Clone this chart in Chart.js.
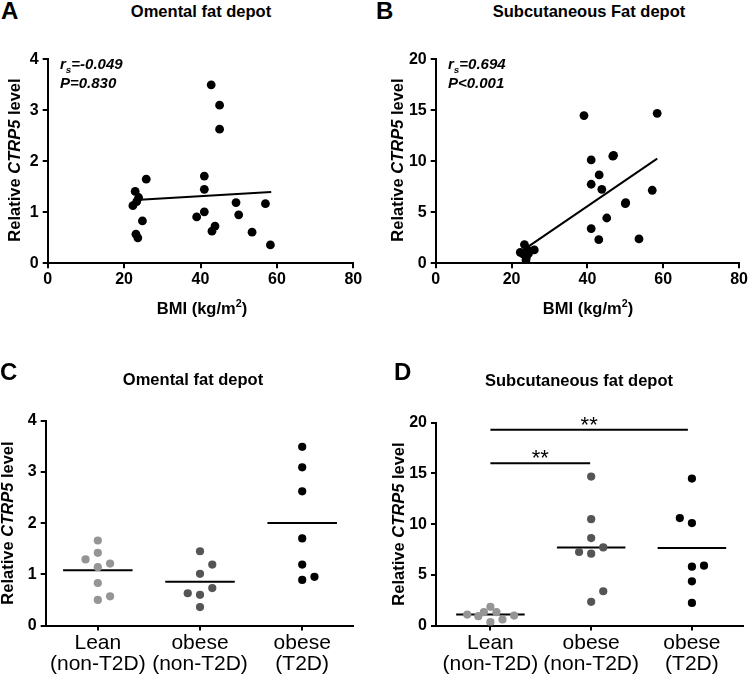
<!DOCTYPE html>
<html>
<head>
<meta charset="utf-8">
<script src="https://cdn.jsdelivr.net/npm/chart.js@4.4.1/dist/chart.umd.min.js"></script>
<style>
  body { margin: 0; background: #fff; }
  #fig { position: relative; width: 750px; height: 677px; overflow: hidden; font-family: "Liberation Sans", Arial, sans-serif; color: #000; }
  .cv { position: absolute; }
  .txt { position: absolute; white-space: nowrap; line-height: 1; }
  .letter { font-size: 24px; font-weight: bold; }
  .title { font-size: 16.5px; font-weight: bold; transform: translate(-50%, -50%); }
  .ytitle { font-size: 16.5px; font-weight: bold; transform: translate(-50%, -50%) rotate(-90deg); }
  .xtitle { font-size: 16.5px; font-weight: bold; transform: translate(-50%, -50%); }
  .stat { font-size: 15px; font-weight: bold; font-style: italic; transform: translateY(-50%); }
  sup, sub { font-size: 65%; line-height: 0; }
</style>
</head>
<body>
<div id="fig">
  <div class="cv" style="left:0;top:40px;width:375px;height:260px"><canvas id="chartA"></canvas></div>
  <div class="cv" style="left:375px;top:40px;width:375px;height:260px"><canvas id="chartB"></canvas></div>
  <div class="cv" style="left:0;top:370px;width:375px;height:307px"><canvas id="chartC"></canvas></div>
  <div class="cv" style="left:375px;top:370px;width:375px;height:307px"><canvas id="chartD"></canvas></div>

  <div class="txt letter" style="left:1px;top:-1px">A</div>
  <div class="txt letter" style="left:376px;top:-1px">B</div>
  <div class="txt letter" style="left:0;top:360px">C</div>
  <div class="txt letter" style="left:394px;top:360px">D</div>

  <div class="txt title" style="left:201px;top:11px">Omental fat depot</div>
  <div class="txt title" style="left:589px;top:11px">Subcutaneous Fat depot</div>
  <div class="txt title" style="left:193px;top:379px">Omental fat depot</div>
  <div class="txt title" style="left:579px;top:380px">Subcutaneous fat depot</div>

  <div class="txt ytitle" style="left:13.5px;top:160px">Relative <i>CTRP5</i> level</div>
  <div class="txt ytitle" style="left:396.5px;top:160px">Relative <i>CTRP5</i> level</div>
  <div class="txt ytitle" style="left:7px;top:523px">Relative <i>CTRP5</i> level</div>
  <div class="txt ytitle" style="left:398px;top:524px">Relative <i>CTRP5</i> level</div>

  <div class="txt xtitle" style="left:202px;top:308px">BMI (kg/m<sup>2</sup>)</div>
  <div class="txt xtitle" style="left:588px;top:308px">BMI (kg/m<sup>2</sup>)</div>

  <div class="txt stat" style="left:60px;top:63px">r<sub>s</sub>=-0.049</div>
  <div class="txt stat" style="left:60px;top:82px">P=0.830</div>
  <div class="txt stat" style="left:448px;top:63px">r<sub>s</sub>=0.694</div>
  <div class="txt stat" style="left:448px;top:82px">P&lt;0.001</div>
</div>

<script>
// A: omental depot, BMI vs CTRP5
const omentalBmi = [22.9, 22.3, 23.8, 23.3, 25.8, 24.8, 23.1, 23.6, 42.8, 45.0, 45.0, 41.0, 41.0, 41.0, 39.0, 43.0, 43.8, 49.3, 50.0, 53.5, 57.0, 58.3];
const omentalLevel = [1.41, 1.13, 1.29, 1.21, 1.65, 0.83, 0.57, 0.50, 3.50, 3.10, 2.63, 1.71, 1.45, 1.01, 0.91, 0.63, 0.73, 1.19, 0.95, 0.61, 1.17, 0.36];
const omentalFitX = [23.0, 58.5];
const omentalFitY = [1.24, 1.40];

// B: subcutaneous depot, BMI vs CTRP5
const subcutBmi = [22.3, 23.0, 26.0, 23.4, 24.2, 23.8, 23.9, 24.5, 39.1, 58.4, 41.0, 46.9, 46.7, 43.1, 41.0, 43.8, 57.1, 50.1, 50.0, 45.1, 41.0, 43.0, 53.6];
const subcutLevel = [1.08, 0.92, 1.31, 1.84, 1.31, 0.33, 0.59, 0.98, 14.48, 14.70, 10.13, 10.59, 10.50, 8.66, 7.75, 7.25, 7.16, 5.95, 5.85, 4.44, 3.40, 2.32, 2.39];
const subcutFitX = [24.4, 58.4];
const subcutFitY = [1.63, 10.26];

// C/D: groups
const groupLabels = [["Lean", "(non-T2D)"], ["obese", "(non-T2D)"], ["obese", "(T2D)"]];
const groupColors = ["#959595", "#555555", "#000000"];

const omLean = [1.66, 1.42, 1.29, 1.21, 1.14, 0.83, 0.57, 0.50];
const omLeanJitter = [0, 0, -0.12, 0.12, 0, 0, 0.12, 0];
const omObese = [1.45, 1.19, 1.01, 0.63, 0.60, 0.73, 0.36];
const omObeseJitter = [0, 0.12, 0, -0.12, 0, 0.12, 0];
const omT2d = [3.49, 3.09, 2.62, 1.70, 1.19, 0.89, 0.95];
const omT2dJitter = [0, 0, 0, 0, 0, 0, 0.12];
const omMedian = [1.08, 0.855, 2.0];

const scLean = [1.08, 0.92, 1.31, 1.84, 1.31, 0.33, 0.59, 0.98];
const scLeanJitter = [-0.23, -0.12, -0.065, 0, 0.06, 0, 0.12, 0.235];
const scObese = [14.69, 10.49, 8.62, 7.25, 7.08, 7.70, 3.38, 2.33];
const scObeseJitter = [0, 0, 0, -0.12, 0, 0.12, 0.12, 0];
const scT2d = [14.49, 10.59, 10.10, 5.80, 5.90, 4.36, 2.23];
const scT2dJitter = [0, -0.12, 0, 0, 0.12, 0, 0];
const scMedian = [1.08, 7.70, 7.65];

const sigFrom = [1, 1];
const sigTo = [1.99, 2.96];
const sigLevel = [16.0, 19.3];
const sigText = ["**", "**"];

const FONT = "'Liberation Sans', Arial, sans-serif";
const MEDIAN_HALF = 0.34;

function axis(min, max, step, fitSize, isX, extraTicks) {
  return {
    type: "linear",
    min: min,
    max: max,
    ticks: Object.assign({
      stepSize: step,
      color: "#000",
      font: { family: FONT, size: 16, weight: "bold" },
      padding: isX ? 2 : 4,
      maxRotation: 0,
    }, extraTicks || {}),
    grid: { drawOnChartArea: false, drawTicks: true, tickLength: 5, tickWidth: 2, color: "#000", lineWidth: 2 },
    border: { display: true, color: "#000", width: 2 },
    afterFit(scale) {
      if (isX) scale.height = fitSize; else scale.width = fitSize;
    },
  };
}

function pts(xs, ys) {
  return xs.map((x, i) => ({ x: x, y: ys[i] }));
}

function dotSet(data, color, r) {
  return { data: data, backgroundColor: color, borderWidth: 0, pointRadius: r, pointHoverRadius: r, showLine: false };
}

function lineSet(data) {
  return { data: data, borderColor: "#000", borderWidth: 2, pointRadius: 0, showLine: true, fill: false };
}

function baseOptions(padding, xAxis, yAxis) {
  return {
    responsive: true,
    maintainAspectRatio: false,
    animation: false,
    layout: { padding: padding },
    plugins: { legend: { display: false }, tooltip: { enabled: false }, title: { display: false } },
    scales: { x: xAxis, y: yAxis },
  };
}

function scatterPanel(id, bmi, level, fitX, fitY, yMax, yStep, padding, yWidth) {
  new Chart(document.getElementById(id), {
    type: "scatter",
    data: {
      datasets: [
        dotSet(pts(bmi, level), "#000", 4.4),
        lineSet(pts(fitX, fitY)),
      ],
    },
    options: baseOptions(padding, axis(0, 80, 20, 36.7, true), axis(0, yMax, yStep, yWidth, false)),
  });
}

scatterPanel("chartA", omentalBmi, omentalLevel, omentalFitX, omentalFitY, 4, 1,
  { left: 0, top: 19.3, right: 21.7, bottom: 0 }, 47.7);
scatterPanel("chartB", subcutBmi, subcutLevel, subcutFitX, subcutFitY, 20, 5,
  { left: 0, top: 19.3, right: 8.3, bottom: 0 }, 60.7);

function jittered(vals, jit, group) {
  return vals.map((v, i) => ({ x: group + jit[i], y: v }));
}

const sigPlugin = {
  id: "sigStars",
  afterDatasetsDraw(chart) {
    const opts = chart.options.plugins.sigStars;
    if (!opts || !opts.show) return;
    const xs = chart.scales.x, ys = chart.scales.y, ctx = chart.ctx;
    ctx.save();
    ctx.fillStyle = "#000";
    ctx.font = "22px " + FONT;
    ctx.textAlign = "center";
    ctx.textBaseline = "alphabetic";
    sigText.forEach((t, i) => {
      const cx = xs.getPixelForValue((sigFrom[i] + sigTo[i]) / 2);
      const cy = ys.getPixelForValue(sigLevel[i]);
      ctx.fillText(t, cx, cy + 2);
    });
    ctx.restore();
  },
};

function groupPanel(id, groups, jitters, medians, yMax, yStep, padding, yWidth, xMin, xMax, withSig) {
  const datasets = [];
  groups.forEach((vals, g) => {
    datasets.push(dotSet(jittered(vals, jitters[g], g + 1), groupColors[g], 4.1));
  });
  medians.forEach((m, g) => {
    datasets.push(lineSet([{ x: g + 1 - MEDIAN_HALF, y: m }, { x: g + 1 + MEDIAN_HALF, y: m }]));
  });
  if (withSig) {
    sigLevel.forEach((lv, i) => {
      datasets.push(lineSet([{ x: sigFrom[i], y: lv }, { x: sigTo[i], y: lv }]));
    });
  }
  const xAxis = axis(xMin, xMax, 1, 51.5, true, {
    font: { family: FONT, size: 21, weight: "normal", lineHeight: 1.0 },
    callback(value, index) { return groupLabels[index]; },
  });
  xAxis.afterBuildTicks = (scale) => {
    scale.ticks = groupLabels.map((_, i) => ({ value: i + 1 }));
  };
  const options = baseOptions(padding, xAxis, axis(0, yMax, yStep, yWidth, false));
  options.plugins.sigStars = { show: withSig };
  new Chart(document.getElementById(id), {
    type: "scatter",
    data: { datasets: datasets },
    options: options,
    plugins: [sigPlugin],
  });
}

groupPanel("chartC", [omLean, omObese, omT2d], [omLeanJitter, omObeseJitter, omT2dJitter], omMedian,
  4, 1, { left: 0, top: 50.7, right: 21.7, bottom: 0 }, 45.7, 0.49, 3.5, false);
groupPanel("chartD", [scLean, scObese, scT2d], [scLeanJitter, scObeseJitter, scT2dJitter], scMedian,
  20, 5, { left: 0, top: 52.7, right: 6.7, bottom: 0 }, 61, 0.46, 3.51, true);
</script>
</body>
</html>
